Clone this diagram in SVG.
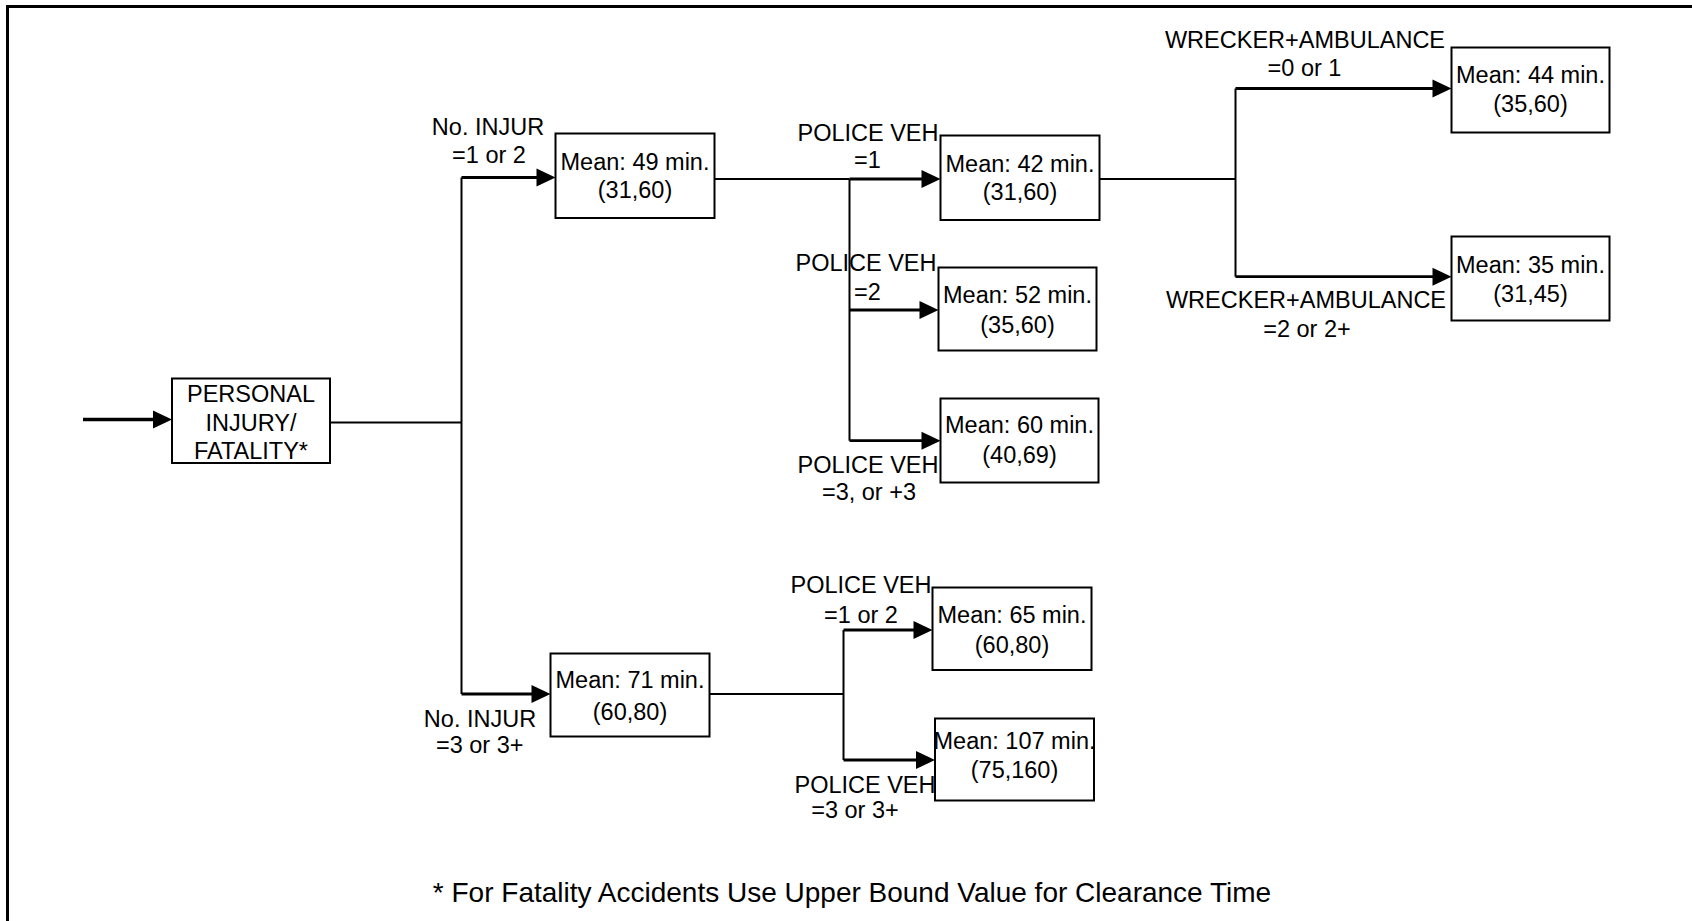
<svg xmlns="http://www.w3.org/2000/svg" width="1692" height="921" viewBox="0 0 1692 921">
<style>
.bg{fill:#fff}
.box rect{fill:#fff;stroke:#000;stroke-width:2}
text{font-family:"Liberation Sans",Arial,sans-serif;font-size:23.5px;fill:#000}
.box text,.lbl{text-anchor:middle}
.c{fill:none;stroke:#000;stroke-width:2}
.a{fill:none;stroke:#000;stroke-width:2.8}
.foot{font-size:28px;text-anchor:middle}
</style>
<defs>
<path id="ah" d="M-19,-9 L0,0 L-19,9 z" fill="#000"/>
</defs>
<rect class="bg" x="0" y="0" width="1692" height="921"/>
<path d="M7.5,921 V6.5 H1692" fill="none" stroke="#000" stroke-width="3"/>

<g id="connectors">
<path class="a" d="M83,419.5 H160" style="stroke-width:3.4"/>
<use href="#ah" x="172" y="419.5"/>
<path class="c" d="M330,422.5 H461.5"/>
<path class="c" d="M461.5,177.5 V694"/>
<path class="a" d="M461.5,177.5 H545"/>
<use href="#ah" x="555.5" y="177.5"/>
<path class="a" d="M461.5,694 H540"/>
<use href="#ah" x="550.5" y="694"/>
<path class="c" d="M715,179 H849.5"/>
<path class="a" d="M849.5,179 H930"/>
<use href="#ah" x="940.5" y="179"/>
<path class="c" d="M849.5,179 V440.7"/>
<path class="a" d="M849.5,310 H928"/>
<use href="#ah" x="938.5" y="310"/>
<path class="a" d="M849.5,440.7 H930"/>
<use href="#ah" x="940.5" y="440.7"/>
<path class="c" d="M1100,179 H1235.5"/>
<path class="c" d="M1235.5,88.5 V276.7"/>
<path class="a" d="M1235.5,88.5 H1441"/>
<use href="#ah" x="1451.5" y="88.5"/>
<path class="a" d="M1235.5,276.7 H1441"/>
<use href="#ah" x="1451.5" y="276.7"/>
<path class="c" d="M710,694 H843.5"/>
<path class="c" d="M843.5,630 V760"/>
<path class="a" d="M843.5,630 H922"/>
<use href="#ah" x="932.5" y="630"/>
<path class="a" d="M843.5,760 H925"/>
<use href="#ah" x="935" y="760"/>
</g>

<g id="n-personal" class="box">
<rect x="172" y="378.5" width="158" height="84.5"/>
<text x="251" y="402">PERSONAL</text>
<text x="251" y="431">INJURY/</text>
<text x="251" y="458.5">FATALITY*</text>
</g>
<g id="n-49" class="box">
<rect x="555.5" y="133.5" width="159" height="84.5"/>
<text x="635" y="170">Mean: 49 min.</text>
<text x="635" y="198">(31,60)</text>
</g>
<g id="n-42" class="box">
<rect x="940.5" y="135.5" width="159" height="84.5"/>
<text x="1020" y="171.7">Mean: 42 min.</text>
<text x="1020" y="200">(31,60)</text>
</g>
<g id="n-52" class="box">
<rect x="938.5" y="267.5" width="158" height="83"/>
<text x="1017.5" y="302.7">Mean: 52 min.</text>
<text x="1017.5" y="333.3">(35,60)</text>
</g>
<g id="n-60" class="box">
<rect x="940.5" y="398.5" width="158" height="84"/>
<text x="1019.5" y="433.3">Mean: 60 min.</text>
<text x="1019.5" y="463.3">(40,69)</text>
</g>
<g id="n-44" class="box">
<rect x="1451.5" y="47.5" width="158" height="85"/>
<text x="1530.5" y="83.3">Mean: 44 min.</text>
<text x="1530.5" y="111.7">(35,60)</text>
</g>
<g id="n-35" class="box">
<rect x="1451.5" y="236.5" width="158" height="84"/>
<text x="1530.5" y="273.3">Mean: 35 min.</text>
<text x="1530.5" y="301.7">(31,45)</text>
</g>
<g id="n-71" class="box">
<rect x="550.5" y="653.5" width="159" height="83"/>
<text x="630" y="688.3">Mean: 71 min.</text>
<text x="630" y="720">(60,80)</text>
</g>
<g id="n-65" class="box">
<rect x="932.5" y="587.5" width="159" height="82.5"/>
<text x="1012" y="623.3">Mean: 65 min.</text>
<text x="1012" y="652.7">(60,80)</text>
</g>
<g id="n-107" class="box">
<rect x="935" y="718.5" width="159" height="82"/>
<text x="1014.5" y="749.3">Mean: 107 min.</text>
<text x="1014.5" y="778.3">(75,160)</text>
</g>

<g id="labels">
<text class="lbl" x="488" y="135">No. INJUR</text>
<text class="lbl" x="489" y="163">=1 or 2</text>
<text class="lbl" x="868" y="140.7">POLICE VEH</text>
<text class="lbl" x="867.5" y="168">=1</text>
<text class="lbl" x="866" y="271">POLICE VEH</text>
<text x="854" y="300">=2</text>
<text class="lbl" x="868" y="473.3">POLICE VEH</text>
<text class="lbl" x="869" y="500">=3, or +3</text>
<text class="lbl" x="480" y="726.7">No. INJUR</text>
<text class="lbl" x="479.7" y="753.3">=3 or 3+</text>
<text class="lbl" x="861" y="593.3">POLICE VEH</text>
<text class="lbl" x="861" y="623.3">=1 or 2</text>
<text class="lbl" x="865" y="793.3">POLICE VEH</text>
<text class="lbl" x="855" y="818.3">=3 or 3+</text>
<text class="lbl" x="1305" y="47.7">WRECKER+AMBULANCE</text>
<text class="lbl" x="1304.5" y="76">=0 or 1</text>
<text class="lbl" x="1306" y="308.3">WRECKER+AMBULANCE</text>
<text class="lbl" x="1307" y="336.7">=2 or 2+</text>
<text class="foot" x="852" y="901.7">* For Fatality Accidents Use Upper Bound Value for Clearance Time</text>
</g>
</svg>
